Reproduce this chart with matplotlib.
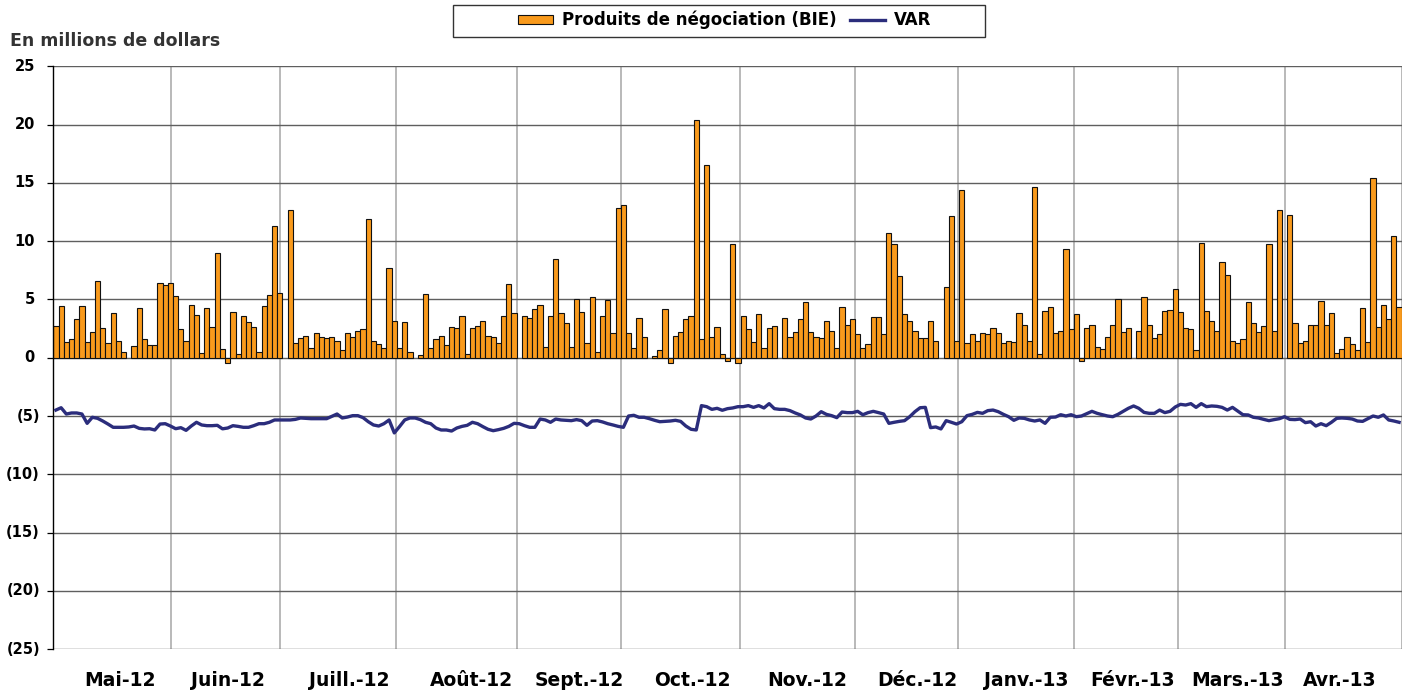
"""Produits de négociation (BIE) vs VAR, daily, May 2012 - April 2013."""

import matplotlib
matplotlib.use("Agg")
import matplotlib.pyplot as plt
import numpy as np
from matplotlib.lines import Line2D
from matplotlib.patches import Patch, Rectangle
from matplotlib.transforms import ScaledTranslation

ORANGE = "#F99A1C"
NAVY = "#2B2D7C"
HGRID = "#5f5f5f"
VGRID = "#a5a5a5"

# daily trading revenue, millions of dollars (None = no value that day)
trading = [
    2.74, 4.43, 1.34, 1.57, 3.29, 4.43, 1.34, 2.2, 6.54, 2.54,
    1.26, 3.8, 1.46, 0.51, None, 0.97, 4.23, 1.57, 1.06, 1.06,
    6.43, 6.2, 6.43, 5.29, 2.43, 1.46, 4.54, 3.69, 0.4, 4.23,
    2.63, 9.0, 0.71, -0.43, 3.89, 0.29, 3.6, 3.06, 2.63, 0.51,
    4.43, 5.37, 11.31, 5.51, None, 12.69, 1.26, 1.69, 1.89, 0.83,
    2.09, 1.8, 1.69, 1.8, 1.46, 0.63, 2.09, 1.8, 2.31, 2.43,
    11.91, 1.46, 1.14, 0.83, 7.71, 3.14, 0.83, 3.03, 0.51, None,
    0.2, 5.49, 0.83, 1.57, 1.89, 1.06, 2.63, 2.51, 3.57, 0.29,
    2.54, 2.74, 3.14, 1.89, 1.8, 1.26, 3.57, 6.34, 3.8, None,
    3.57, 3.37, 4.14, 4.54, 0.94, 3.57, 8.43, 3.8, 2.94, 0.94,
    5.06, 3.89, 1.23, 5.17, 0.51, 3.6, 4.97, 2.09, 12.8, 13.09,
    2.09, 0.83, 3.37, 1.8, None, 0.11, 0.63, 4.14, -0.43, 1.89,
    2.2, 3.29, 3.57, 20.4, 1.57, 16.49, 1.8, 2.63, 0.31, -0.31,
    9.71, -0.43, 3.57, 2.43, 1.37, 3.71, 0.83, 2.51, 2.74, None,
    3.37, 1.8, 2.2, 3.29, 4.74, 2.2, 1.8, 1.69, 3.14, 2.31,
    0.83, 4.31, 2.83, 3.29, 2.0, 0.83, 1.14, 3.49, 3.49, 2.0,
    10.66, 9.71, 6.97, 3.71, 3.14, 2.31, 1.69, 1.69, 3.14, 1.46,
    None, 6.03, 12.17, 1.46, 14.37, 1.26, 2.0, 1.46, 2.09, 2.0,
    2.51, 2.09, 1.26, 1.46, 1.37, 3.8, 2.83, 1.46, 14.6, 0.29,
    4.03, 4.31, 2.09, 2.31, 9.31, 2.43, 3.71, -0.31, 2.51, 2.83,
    0.94, 0.71, 1.8, 2.83, 5.06, 2.2, 2.51, None, 2.31, 5.17,
    2.83, 1.69, 2.0, 4.0, 4.11, 5.91, 3.89, 2.51, 2.43, 0.63,
    9.8, 4.0, 3.14, 2.31, 8.23, 7.06, 1.46, 1.26, 1.57, 4.74,
    2.94, 2.2, 2.74, 9.71, 2.31, 12.69, None, 12.26, 2.94, 1.26,
    1.46, 2.83, 2.83, 4.86, 2.83, 3.8, 0.4, 0.71, 1.8, 1.14,
    0.63, 4.23, 1.37, 15.43, 2.63, 4.54, 3.29, 10.46, 4.31,
]

# daily value at risk, millions of dollars
var = [
    -4.49, -4.29, -4.83, -4.74, -4.74, -4.83, -5.63, -5.11, -5.2, -5.43,
    -5.69, -5.97, -5.97, -5.97, -5.94, -5.86, -6.06, -6.11, -6.09, -6.2,
    -5.69, -5.66, -5.86, -6.09, -6.0, -6.23, -5.86, -5.54, -5.77, -5.83,
    -5.83, -5.8, -6.1, -6.03, -5.83, -5.89, -5.97, -5.97, -5.83, -5.66,
    -5.66, -5.54, -5.34, -5.34, -5.34, -5.34, -5.29, -5.17, -5.2, -5.23,
    -5.23, -5.23, -5.23, -5.03, -4.83, -5.17, -5.09, -4.97, -4.97, -5.14,
    -5.49, -5.77, -5.86, -5.66, -5.34, -6.45, -5.91, -5.34, -5.17, -5.17,
    -5.31, -5.54, -5.66, -6.03, -6.2, -6.2, -6.29, -6.03, -5.89, -5.8,
    -5.54, -5.66, -5.91, -6.14, -6.26, -6.17, -6.06, -5.89, -5.63, -5.66,
    -5.83, -5.97, -5.97, -5.26, -5.34, -5.54, -5.26, -5.34, -5.37, -5.4,
    -5.31, -5.4, -5.8, -5.43, -5.4, -5.51, -5.66, -5.77, -5.89, -5.97,
    -5.0, -4.94, -5.11, -5.11, -5.23, -5.37, -5.49, -5.46, -5.43, -5.37,
    -5.46, -5.86, -6.14, -6.2, -4.11, -4.2, -4.43, -4.34, -4.51, -4.37,
    -4.31, -4.2, -4.2, -4.11, -4.26, -4.11, -4.31, -3.94, -4.37, -4.43,
    -4.43, -4.54, -4.74, -4.91, -5.17, -5.26, -5.0, -4.63, -4.86, -4.97,
    -5.14, -4.66, -4.71, -4.71, -4.6, -4.89, -4.71, -4.6, -4.71, -4.83,
    -5.63, -5.54, -5.46, -5.4, -5.06, -4.63, -4.29, -4.26, -6.0, -5.94,
    -6.11, -5.4, -5.54, -5.69, -5.49, -4.97, -4.86, -4.69, -4.77, -4.54,
    -4.49, -4.63, -4.86, -5.06, -5.37, -5.17, -5.2, -5.34, -5.43, -5.34,
    -5.63, -5.11, -5.09, -4.89, -5.0, -4.89, -5.06, -5.0, -4.8, -4.6,
    -4.77, -4.89, -5.0, -5.06, -4.86, -4.6, -4.34, -4.14, -4.34, -4.69,
    -4.77, -4.77, -4.49, -4.71, -4.6, -4.23, -4.0, -4.06, -3.94, -4.26,
    -3.94, -4.2, -4.14, -4.17, -4.26, -4.49, -4.26, -4.57, -4.89, -4.91,
    -5.11, -5.17, -5.29, -5.4, -5.31, -5.23, -5.06, -5.29, -5.31, -5.26,
    -5.57, -5.49, -5.86, -5.66, -5.83, -5.54, -5.2, -5.17, -5.2, -5.26,
    -5.43, -5.46, -5.23, -5.0, -5.11, -4.91, -5.34, -5.43, -5.54,
]

months = [
    "Mai-12", "Juin-12", "Juill.-12", "Août-12", "Sept.-12", "Oct.-12",
    "Nov.-12", "Déc.-12", "Janv.-13", "Févr.-13", "Mars.-13", "Avr.-13",
]
y_ticks = list(range(-25, 26, 5))

# layout, in day-slot units along the category axis
month_label_pos = [12.8, 33.6, 56.8, 80.4, 101.0, 122.8, 144.9, 166.0, 186.8, 207.4, 227.5, 247.0]
month_grid_pos = [22.6, 43.6, 65.8, 89.1, 109.0, 131.9, 153.9, 173.8, 196.1, 216.0, 236.6]

W, H = 1411, 693
n = len(trading)
x = np.arange(n) + 0.5
bars = np.array([np.nan if v is None else v for v in trading], dtype=float)

fig = plt.figure(figsize=(W / 100, H / 100), dpi=100)
left, right, top, bottom = 53.3, 1401.7, 66.2, 649.2
ax = fig.add_axes([left / W, 1 - bottom / H, (right - left) / W, (bottom - top) / H])

ax.bar(x, bars, width=1.0, color=ORANGE, edgecolor="#111111", linewidth=0.8, zorder=2)
ax.plot(x, var, color=NAVY, lw=2.4, zorder=3, solid_joinstyle="round")

ax.set_xlim(0, n)
ax.set_ylim(-25, 25)

# horizontal grid
ax.set_yticks(y_ticks)
ax.set_yticklabels([])
ax.yaxis.grid(True, color=HGRID, lw=1.0, zorder=0)
ax.tick_params(axis="y", length=4.5, width=0.9, color="black", direction="out")

# month grid + month labels
ax.set_xticks(month_grid_pos + [n])
ax.set_xticklabels([])
ax.xaxis.grid(True, which="major", color=VGRID, lw=1.1, zorder=0)
ax.set_xticks(month_label_pos, minor=True)
ax.set_xticklabels(months, minor=True, fontsize=13.5, fontweight="bold")
ax.tick_params(axis="x", which="both", length=0)
ax.tick_params(axis="x", which="minor", pad=15.5)
ax.set_axisbelow(True)

for side in ("top", "right", "bottom"):
    ax.spines[side].set_visible(False)
ax.spines["left"].set_color("black")
ax.spines["left"].set_linewidth(1.0)

# y labels in accounting style: negatives in parentheses, positives padded
for v in y_ticks:
    if v < 0:
        txt, dx = f"({-v})", 9.6
    else:
        txt, dx = f"{v}", 13.2
    tr = ax.get_yaxis_transform() + ScaledTranslation(-dx / 72, 0, fig.dpi_scale_trans)
    ax.text(0, v, txt, transform=tr, ha="right", va="center", fontsize=10.5,
            fontweight="bold", color="black", clip_on=False)

fig.text(10 / W, 1 - 41 / H, "En millions de dollars", ha="left", va="center",
         fontsize=12.5, fontweight="bold", color="#333333")

# legend
fig.add_artist(Rectangle((453 / W, 1 - 37 / H), 532 / W, 32 / H, transform=fig.transFigure,
                         fill=False, edgecolor="#333333", lw=1.0))
handles = [
    Patch(facecolor=ORANGE, edgecolor="#111111", lw=0.8),
    Line2D([], [], color=NAVY, lw=2.4),
]
fig.legend(handles, ["Produits de négociation (BIE)", "VAR"], loc="center left",
           bbox_to_anchor=(518 / W, 1 - 20 / H), ncol=2, frameon=False, borderpad=0,
           borderaxespad=0, handlelength=2.1, handleheight=0.5, handletextpad=0.55,
           columnspacing=0.8, prop={"weight": "bold", "size": 12})

fig.savefig("out.png", dpi=100, facecolor="white")
